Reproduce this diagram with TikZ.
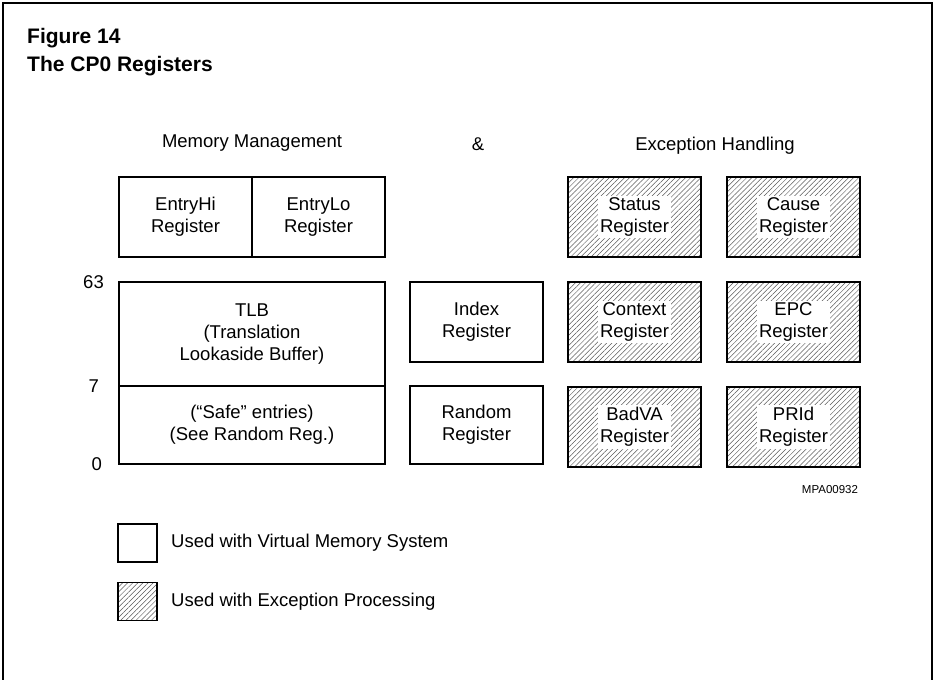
\documentclass[tikz,border=0pt]{standalone}
\usepackage{fontspec}
\setmainfont{Liberation Sans}
\usetikzlibrary{positioning,patterns.meta}
\tikzset{
  FrameStyle/.style = {black, line width=1.4pt},
  TitleStyle/.style = {anchor=base west, inner sep=0pt,
                       font=\fontsize{21}{25}\selectfont\bfseries},
  TextStyle/.style  = {inner sep=0pt, font=\fontsize{18.5}{22}\selectfont},
  HatchStyle/.style = {pattern={Lines[angle=45,distance=3.6pt,line width=0.5pt]},
                       pattern color=black!65},
  BoxStyle/.style   = {rectangle, draw=black, line width=1.6pt, outer sep=0pt,
                       inner sep=0pt, minimum width=133pt, minimum height=80pt,
                       align=center, font=\fontsize{18.5}{22}\selectfont},
  ExcStyle/.style   = {BoxStyle, HatchStyle},
  KnockStyle/.style = {fill=white, inner sep=2pt, align=center,
                       font=\fontsize{18.5}{22}\selectfont},
  KeyStyle/.style   = {rectangle, draw=black, line width=1.6pt, outer sep=0pt,
                       minimum width=39pt, minimum height=38pt},
  IdStyle/.style    = {inner sep=0pt, font=\fontsize{11.5}{13}\selectfont}
}

\begin{document}
\begin{tikzpicture}[x=1pt, y=-1pt]
  \useasboundingbox (0,0) rectangle (935,680);
  % frame
  \draw[FrameStyle] (3,680) -- (3,3) -- (932,3) -- (932,680);
  % title
  \node[TitleStyle] (fig)   at (27,43) {Figure 14};
  \node[TitleStyle] (title) at (27,71) {The CP0 Registers};
  % headings
  \node[TextStyle] (mm)  at (252,143) {Memory Management};
  \node[TextStyle] (amp) at (478,144) {\&};
  \node[TextStyle] (eh)  at (715,146) {Exception Handling};
  % memory management
  \node[BoxStyle] (hi) at (185.5,217) {EntryHi\\Register};
  \node[BoxStyle, right=0pt of hi] (lo) {EntryLo\\Register};
  \node[BoxStyle, minimum width=266pt, minimum height=104pt,
        below=25pt of hi.south west, anchor=north west] (tlb)
        {TLB\\(Translation\\Lookaside Buffer)};
  \node[BoxStyle, minimum width=266pt, minimum height=78pt,
        below=0pt of tlb] (safe) {(``Safe'' entries)\\(See Random Reg.)};
  \node[BoxStyle, right=25pt of tlb.north east, anchor=north west] (index)
        {Index\\Register};
  \node[BoxStyle, minimum height=78pt,
        right=25pt of safe.south east, anchor=south west] (random)
        {Random\\Register};
  \node[TextStyle, left=15pt of tlb.north west] (b63) {63};
  \node[TextStyle, left=20pt of tlb.south west] (b7)  {7};
  \node[TextStyle, left=17pt of safe.south west] (b0) {0};
  % exception handling
  \node[ExcStyle, right=25pt of index] (context) {};
  \node[ExcStyle, above=25pt of context] (status) {};
  \node[ExcStyle, below=25pt of context] (badva) {};
  \node[ExcStyle, right=26pt of status] (cause) {};
  \node[ExcStyle, right=26pt of context] (epc) {};
  \node[ExcStyle, right=26pt of badva] (prid) {};
  \foreach \reg/\txt in {status/Status, cause/Cause, context/Context,
                         epc/EPC, badva/BadVA, prid/PRId}
    \node[KnockStyle] (\reg-txt) at (\reg) {\txt\\Register};
  \node[IdStyle] (mpa) at (830,490) {MPA00932};
  % legend
  \node[KeyStyle] (keyvm) at (137.5,543) {};
  \node[KeyStyle, HatchStyle] (keyex) at (137.5,601.5) {};
  \node[TextStyle, right=14pt of keyvm] (txtvm) {Used with Virtual Memory System};
  \node[TextStyle, right=14pt of keyex] (txtex) {Used with Exception Processing};
\end{tikzpicture}
\end{document}
